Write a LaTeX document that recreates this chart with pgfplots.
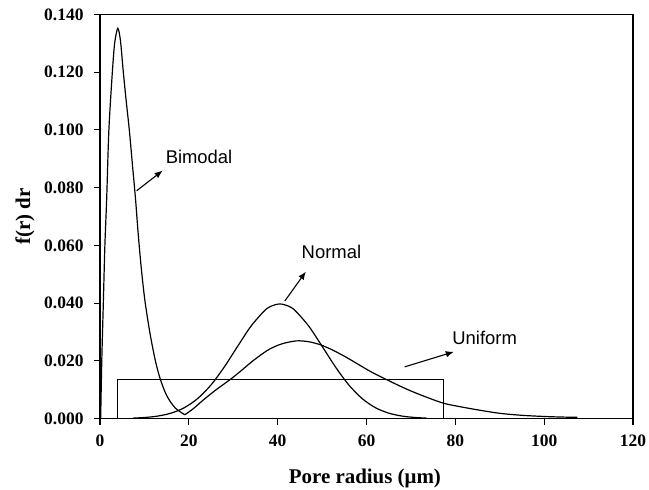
\documentclass[border=0pt]{standalone}
\usepackage{pgfplots}
\pgfplotsset{compat=1.18}
\usepackage{fontspec}
\setmainfont{Liberation Serif}
\newfontfamily\arial{Liberation Sans}
\usetikzlibrary{arrows.meta}
\begin{document}
\begin{tikzpicture}
\begin{axis}[
  scale only axis, width=533bp, height=404bp,
  at={(0,0)}, anchor=south west,
  xmin=0, xmax=120, ymin=0, ymax=0.140,
  xtick={0,20,40,60,80,100,120},
  ytick={0,0.02,0.04,0.06,0.08,0.1,0.12,0.14},
  yticklabels={0.000,0.020,0.040,0.060,0.080,0.100,0.120,0.140},
  scaled y ticks=false,
  tick align=outside, tick pos=left,
  major tick length=6bp,
  /pgf/number format/assume math mode=true,
  ticklabel style={font=\fontsize{17.5}{17.5}\selectfont\bfseries},
  yticklabel style={xshift=-7bp},
  xticklabel style={yshift=-7bp},
  axis line style={line width=1.3bp},
  every tick/.style={black, line width=1.1bp},
  xlabel={Pore radius (μm)}, ylabel={f(r) dr},
  every axis x label/.style={at={(axis description cs:0.497,0)}, yshift=-64.5bp, anchor=base, font=\fontsize{21}{21}\selectfont\bfseries},
  every axis y label/.style={at={(axis description cs:-0.1313,0.5)}, rotate=90, anchor=base, font=\fontsize{21}{21}\selectfont\bfseries},
  every axis plot/.append style={black, line width=1.2bp},
]
% Bimodal, first mode
\addplot[smooth] coordinates {
(0.15,0) (0.4,0.02) (0.75,0.04) (1.1,0.06) (1.5,0.076) (2.0,0.10) (2.78,0.12) (3.3,0.13) (4.0,0.1352) (4.6,0.131) (5.25,0.12) (5.9,0.11) (6.6,0.10) (7.3,0.088) (8.0,0.076) (8.6,0.064) (9.3,0.052) (10.1,0.041) (11.2,0.030) (12.4,0.0205) (13.5,0.0140) (15,0.0080) (16.9,0.0037) (19.1,0.0013)
};
% Bimodal, second mode
\addplot[smooth] coordinates {
(19.1,0.0013) (21,0.0034) (23.25,0.0064) (26,0.0098) (29.3,0.0135) (31.5,0.0162) (33.8,0.0192) (36,0.0218) (38.25,0.0241) (41,0.0259) (44.25,0.0269) (47,0.0266) (49.5,0.0256) (52,0.0240) (55,0.0216) (58,0.0189) (61,0.0162) (64.5,0.0135) (68,0.0109) (71,0.0089) (74,0.0071) (77.3,0.0053) (80,0.0044) (85,0.003) (90,0.0018) (95,0.0011) (100,0.0007) (104,0.0005) (107.5,0.0004)
};
% Normal
\addplot[smooth] coordinates {
(7.5,0.00015) (10,0.00034) (13,0.00084) (16,0.00186) (19,0.00375) (22,0.00693) (25,0.01165) (28,0.01789) (31,0.02505) (34,0.0320) (37,0.0373) (38.5,0.0389) (40.5,0.0397) (42.5,0.0389) (44,0.0373) (47,0.0320) (50,0.02505) (53,0.01789) (56,0.01165) (59,0.00693) (62,0.00375) (65,0.00186) (68,0.00084) (71,0.00034) (73.5,0.00015)
};
% Uniform
\addplot[sharp plot] coordinates {
(3.98,0) (3.98,0.0135) (77.3,0.0135) (77.3,0)
};
\draw[-{Latex[length=8bp,width=6.5bp]}, line width=1.1bp] (axis cs:8.24,0.0789) -- (axis cs:14.1,0.0859);
\draw[-{Latex[length=8bp,width=6.5bp]}, line width=1.1bp] (axis cs:41.6,0.0407) -- (axis cs:46.35,0.0509);
\draw[-{Latex[length=8bp,width=6.5bp]}, line width=1.1bp] (axis cs:68.6,0.0179) -- (axis cs:79.65,0.0231);
\node[font=\arial\fontsize{18.5}{18.5}\selectfont] at (axis cs:22.3,0.0906) {Bimodal};
\node[font=\arial\fontsize{18.5}{18.5}\selectfont] at (axis cs:52.1,0.0578) {Normal};
\node[font=\arial\fontsize{18.5}{18.5}\selectfont] at (axis cs:86.6,0.0278) {Uniform};
\end{axis}
\pgfresetboundingbox
\path (-100bp,-71.5bp) rectangle (549bp,418.5bp);
\end{tikzpicture}
\end{document}
